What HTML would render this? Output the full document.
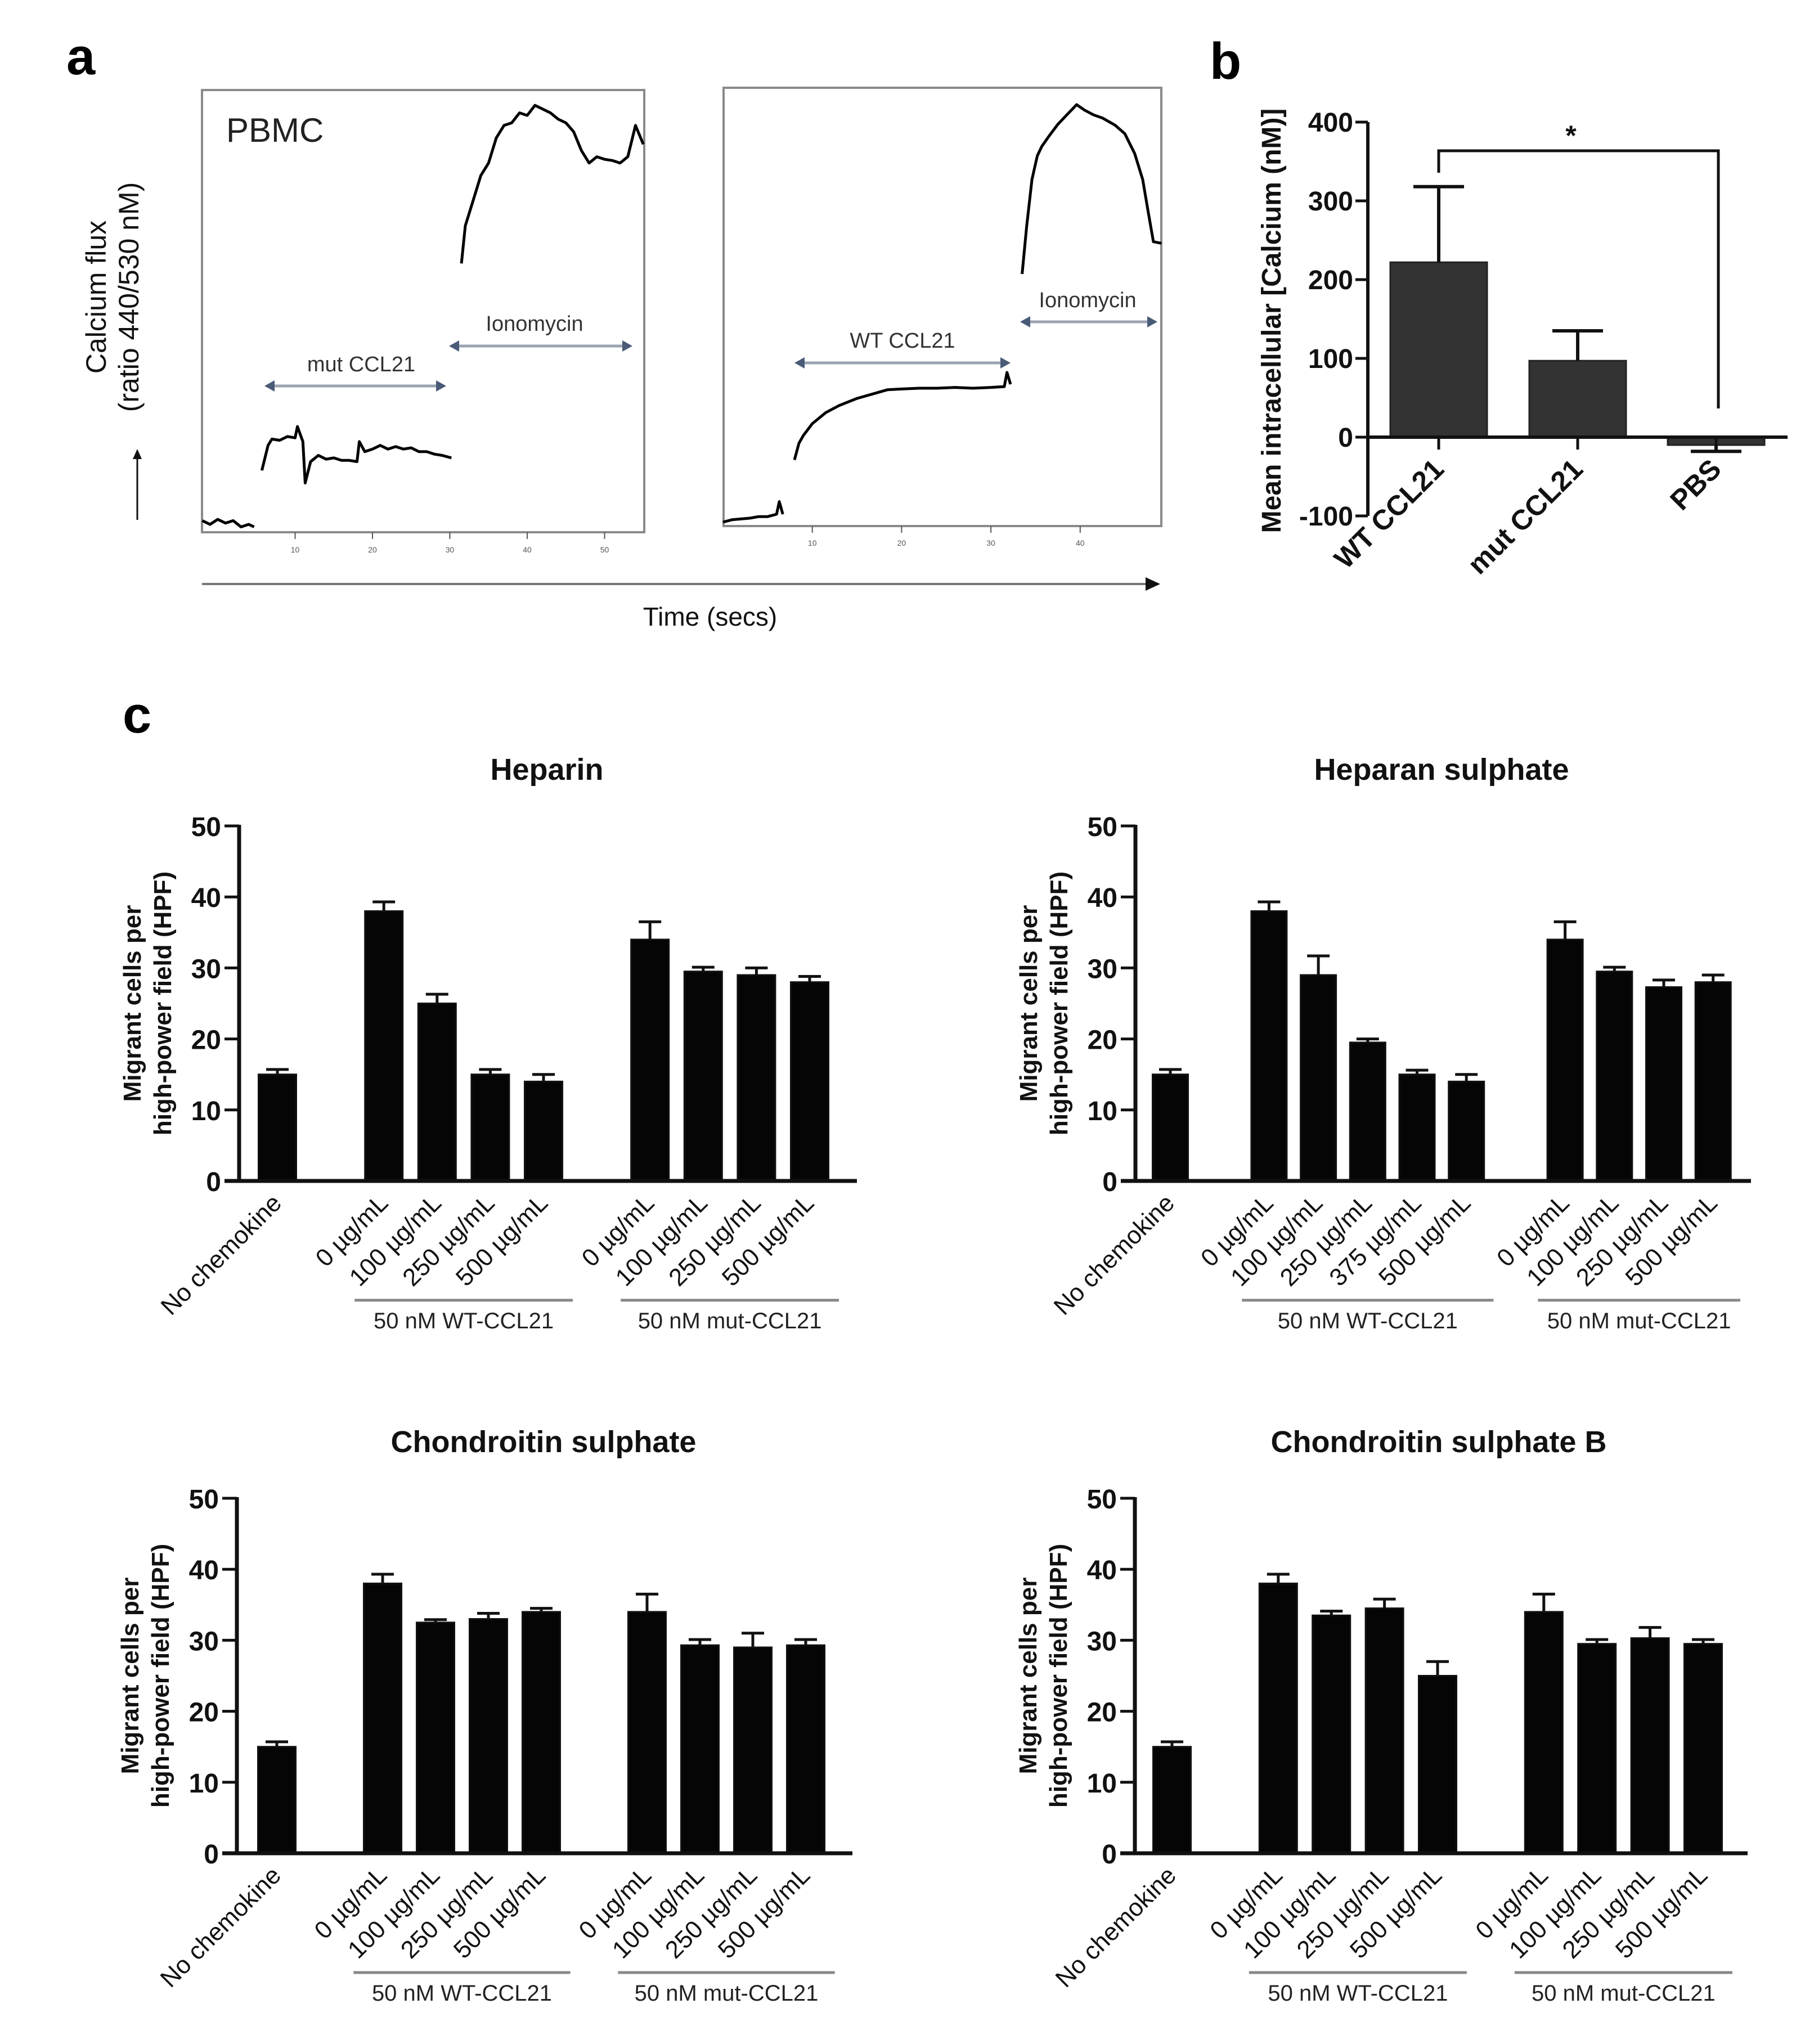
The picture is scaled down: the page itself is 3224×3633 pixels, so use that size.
<!DOCTYPE html>
<html><head><meta charset="utf-8">
<style>
html,body{margin:0;padding:0;background:#fff;}
svg{display:block;font-family:"Liberation Sans",Arial,sans-serif;}
</style></head>
<body>
<svg id="fig" width="3224" height="3633" viewBox="0 0 3224 3633" xmlns="http://www.w3.org/2000/svg">
  <rect x="0" y="0" width="3224" height="3633" fill="#ffffff"/>
  <text x="118" y="132" font-size="92" font-weight="bold">a</text>
  <text x="2150" y="140" font-size="92" font-weight="bold">b</text>
  <text x="218" y="1302" font-size="92" font-weight="bold">c</text>
  <g id="panelA"></g>
  <g id="panelB"></g>
  <g id="panelC"></g>
</svg>
<script>
// ---------- Panel a data (time s, ratio units) ----------
const pbmcBaseT = [-2,-1,0,1,2,3,4,4.7];
const pbmcBaseV = [0.55,0.52,0.56,0.53,0.55,0.5,0.52,0.5];
const mutT = [5.7,6.5,7,8,9,10,10.3,11,11.3,12,13,14,15,16,17,18,18.3,19,20,21,22,23,24,25,26,27,28,29,30.2];
const mutV = [0.95,1.15,1.2,1.19,1.22,1.21,1.3,1.18,0.85,1.02,1.07,1.04,1.05,1.03,1.03,1.02,1.18,1.1,1.12,1.15,1.12,1.14,1.12,1.13,1.1,1.1,1.08,1.07,1.05];
const iono1T = [31.5,32,33,34,35,36,37,38,39,40,41,42,43,44,45,46,47,48,49,50,51,52,53,54,55];
const iono1V = [2.6,2.9,3.1,3.3,3.4,3.6,3.7,3.72,3.8,3.78,3.86,3.83,3.8,3.75,3.72,3.65,3.5,3.4,3.45,3.43,3.42,3.4,3.45,3.7,3.55];
const wtBaseT = [0,1,2,3,4,5,6,6.3,6.7];
const wtBaseV = [0.45,0.48,0.49,0.5,0.52,0.52,0.55,0.71,0.55];
const wtT = [8,8.5,9,10,11.5,13,15,18.4,20,22,24,26,28,30,31.5,31.8,32.2];
const wtV = [1.24,1.45,1.55,1.7,1.84,1.93,2.02,2.13,2.14,2.15,2.15,2.16,2.15,2.16,2.17,2.35,2.2];
const iono2T = [33.5,34,34.6,35.2,35.7,36.5,37.5,38.5,39.6,40.5,41.5,42.5,43.9,45,46.1,47,47.6,48.2,49.1];
const iono2V = [3.6,4.2,4.8,5.1,5.22,5.35,5.5,5.62,5.75,5.68,5.62,5.58,5.49,5.38,5.13,4.8,4.4,4.01,3.99];
const box1Ticks = [10,20,30,40,50];
const box2Ticks = [10,20,30,40];

// ---------- Panel b data ----------
const bCats = ["WT CCL21","mut CCL21","PBS"];
const bVals = [222,97,-10];
const bErrs = [96,38,-8];
const bTicks = [400,300,200,100,0,-100];

// ---------- Panel c data ----------
const cCats4 = ["No chemokine","0 µg/mL","100 µg/mL","250 µg/mL","500 µg/mL","0 µg/mL","100 µg/mL","250 µg/mL","500 µg/mL"];
const cCats5 = ["No chemokine","0 µg/mL","100 µg/mL","250 µg/mL","375 µg/mL","500 µg/mL","0 µg/mL","100 µg/mL","250 µg/mL","500 µg/mL"];
const heparinVals = [15,38,25,15,14,34,29.5,29,28];
const heparinErrs = [0.7,1.3,1.3,0.7,1,2.5,0.6,1,0.8];
const heparanVals = [15,38,29,19.5,15,14,34,29.5,27.3,28];
const heparanErrs = [0.7,1.3,2.7,0.5,0.6,1,2.5,0.6,1,1];
const chondVals = [15,38,32.5,33,34,34,29.3,29,29.3];
const chondErrs = [0.7,1.3,0.4,0.8,0.5,2.5,0.8,2,0.8];
const chondBVals = [15,38,33.5,34.5,25,34,29.5,30.3,29.5];
const chondBErrs = [0.7,1.3,0.6,1.3,2,2.5,0.6,1.5,0.6];
const cTicks = [0,10,20,30,40,50];

const NS = "http://www.w3.org/2000/svg";
function mk(parent, tag, attrs, text){
  const e = document.createElementNS(NS, tag);
  for (const k in attrs) e.setAttribute(k, attrs[k]);
  if (text !== undefined) e.textContent = text;
  parent.appendChild(e);
  return e;
}

// ================= Panel A =================
(function(){
  const g = document.getElementById('panelA');
  function box(x0,y0,x1,y1,name){
    const r = mk(g,'rect',{x:x0,y:y0,width:x1-x0,height:y1-y0,fill:'none',stroke:'#8a8a8a','stroke-width':4});
    
    
  }
  box(359,160,1145,946,'trace-box-mut');
  box(1286,156,2064,935,'trace-box-wt');

  function trace(ts,vs,xf,yf,name){
    const pts = ts.map((t,i)=>xf(t).toFixed(1)+','+yf(vs[i]).toFixed(1)).join(' ');
    const p = mk(g,'polyline',{points:pts,fill:'none',stroke:'#000','stroke-width':5,'stroke-linejoin':'round'});
    
    
  }
  const x1 = t => 387 + t*13.75, y1 = v => 825 - (v-1)*223;
  const x2 = t => 1285 + t*15.87, y2 = v => 851 - (v-1)*140;
  trace(pbmcBaseT,pbmcBaseV,x1,y1,'baseline-trace-1');
  trace(mutT,mutV,x1,y1,'mut-ccl21-trace');
  trace(iono1T,iono1V,x1,y1,'ionomycin-trace-1');
  trace(wtBaseT,wtBaseV,x2,y2,'baseline-trace-2');
  trace(wtT,wtV,x2,y2,'wt-ccl21-trace');
  trace(iono2T,iono2V,x2,y2,'ionomycin-trace-2');

  box1Ticks.forEach(t=>{
    const l = mk(g,'line',{x1:x1(t),x2:x1(t),y1:946,y2:958,stroke:'#555','stroke-width':2});
     
    const tx = mk(g,'text',{x:x1(t),y:982,'font-size':14,'text-anchor':'middle',fill:'#555'},String(t));
     
  });
  box2Ticks.forEach(t=>{
    const l = mk(g,'line',{x1:x2(t),x2:x2(t),y1:935,y2:947,stroke:'#555','stroke-width':2});
     
    const tx = mk(g,'text',{x:x2(t),y:970,'font-size':14,'text-anchor':'middle',fill:'#555'},String(t));
     
  });

  function darrow(xa,xb,y,label,lx,ly,name){
    const c = '#4a5b78';
    const l = mk(g,'line',{x1:xa+14,x2:xb-14,y1:y,y2:y,stroke:'#9aa3b2','stroke-width':5});
     
    const a1 = mk(g,'polygon',{points:`${xa},${y} ${xa+18},${y-10} ${xa+18},${y+10}`,fill:c});
     
    const a2 = mk(g,'polygon',{points:`${xb},${y} ${xb-18},${y-10} ${xb-18},${y+10}`,fill:c});
     
    const t = mk(g,'text',{x:lx,y:ly,'font-size':38,'text-anchor':'middle',fill:'#333'},label);
     
  }
  darrow(470,793,686,'mut CCL21',642,660,'mut-ccl21-arrow');
  darrow(798,1124,615,'Ionomycin',950,588,'ionomycin-arrow-1');
  darrow(1412,1796,645,'WT CCL21',1604,618,'wt-ccl21-arrow');
  darrow(1813,2057,572,'Ionomycin',1933,546,'ionomycin-arrow-2');

  const pb = mk(g,'text',{x:402,y:252,'font-size':60,fill:'#222'},'PBMC');
   

  const ta = mk(g,'line',{x1:359,x2:2040,y1:1038,y2:1038,stroke:'#777','stroke-width':4});
   
  const th = mk(g,'polygon',{points:'2062,1038 2036,1026 2036,1050',fill:'#111'});
   
  const tt = mk(g,'text',{x:1262,y:1112,'font-size':46,'text-anchor':'middle',fill:'#111'},'Time (secs)');
   

  const yl = mk(g,'text',{transform:'translate(188,528) rotate(-90)','font-size':50,'text-anchor':'middle',fill:'#111'});
   
  mk(yl,'tspan',{x:0,dy:0},'Calcium flux');
  mk(yl,'tspan',{x:0,dy:58},'(ratio 440/530 nM)');
  const ua = mk(g,'line',{x1:244,x2:244,y1:924,y2:812,stroke:'#111','stroke-width':3});
   
  const uh = mk(g,'polygon',{points:'244,798 236,816 252,816',fill:'#111'});
   
})();

// ================= Panel B =================
(function(){
  const g = document.getElementById('panelB');
  const ax = 2431, y0 = 777, per = 1.40;
  const yv = v => y0 - v*per;
  const centers = [2557, 2804, 3050];
  const bw = 172;
  const axis = mk(g,'line',{x1:ax,x2:ax,y1:yv(400),y2:yv(-100),stroke:'#111','stroke-width':6});
   
  bTicks.forEach(t=>{
    const l = mk(g,'line',{x1:ax-22,x2:ax,y1:yv(t),y2:yv(t),stroke:'#111','stroke-width':5});
     
    const tx = mk(g,'text',{x:ax-26,y:yv(t)+17,'font-size':48,'font-weight':'bold','text-anchor':'end',fill:'#111'},String(t));
     
  });
  bVals.forEach((v,i)=>{
    const c = centers[i];
    const top = Math.min(yv(v),y0), hgt = Math.abs(yv(v)-y0);
    const r = mk(g,'rect',{x:c-bw/2,y:top,width:bw,height:hgt,fill:'#333',stroke:'#222','stroke-width':3});
    
    
    const ev = v + bErrs[i];
    const el = mk(g,'line',{x1:c,x2:c,y1:yv(v),y2:yv(ev),stroke:'#111','stroke-width':6});
     
    const ec = mk(g,'line',{x1:c-45,x2:c+45,y1:yv(ev),y2:yv(ev),stroke:'#111','stroke-width':6});
     
    const tk = mk(g,'line',{x1:c,x2:c,y1:y0,y2:y0+22,stroke:'#111','stroke-width':5});
     
    const tx = mk(g,'text',{transform:`translate(${c+12},${y0+60}) rotate(-45)`,'font-size':50,'font-weight':'bold','text-anchor':'end',fill:'#111'},bCats[i]);
     
  });
  const zl = mk(g,'line',{x1:ax,x2:3177,y1:y0,y2:y0,stroke:'#111','stroke-width':6});
   
  const br = mk(g,'polyline',{points:`${centers[0]},307 ${centers[0]},268 3054,268 3054,726`,fill:'none',stroke:'#111','stroke-width':5});
   
  const st = mk(g,'text',{x:2792,y:258,'font-size':50,'font-weight':'bold','text-anchor':'middle',fill:'#111'},'*');
   
  const yt = mk(g,'text',{transform:'translate(2276,570) rotate(-90)','font-size':48,'font-weight':'bold','text-anchor':'middle',fill:'#111'},'Mean intracellular [Calcium (nM)]');
   
})();

// ================= Panel C =================
function barChart(cfg){
  const g = mk(document.getElementById('panelC'),'g',{});
  
  
  const ax = cfg.ax, y0 = cfg.y0, h = 631;
  const yv = v => y0 - v/50*h;
  const title = mk(g,'text',{x:cfg.titleX,y:y0-h-82,'font-size':54,'font-weight':'bold','text-anchor':'middle',fill:'#111'},cfg.title);
   
  const axis = mk(g,'line',{x1:ax,x2:ax,y1:yv(50)-2,y2:y0,stroke:'#111','stroke-width':7});
   
  cTicks.forEach(t=>{
    const l = mk(g,'line',{x1:ax-26,x2:ax,y1:yv(t),y2:yv(t),stroke:'#111','stroke-width':5});
     
    const tx = mk(g,'text',{x:ax-32,y:yv(t)+18,'font-size':48,'font-weight':'bold','text-anchor':'end',fill:'#111'},String(t));
     
  });
  const yt = mk(g,'text',{transform:`translate(${ax-175},${y0-h/2}) rotate(-90)`,'font-size':44,'font-weight':'bold','text-anchor':'middle',fill:'#111'});
   
  mk(yt,'tspan',{x:0,dy:0},'Migrant cells per');
  mk(yt,'tspan',{x:0,dy:54},'high-power field (HPF)');
  const cx = s => ax + cfg.first + s*cfg.pitch;
  cfg.vals.forEach((v,i)=>{
    const c = cx(cfg.slots[i]);
    const r = mk(g,'rect',{x:c-cfg.bw/2,y:yv(v),width:cfg.bw,height:y0-yv(v),fill:'#050505',stroke:'#111','stroke-width':3});
    
    
    const ev = v + cfg.errs[i];
    const el = mk(g,'line',{x1:c,x2:c,y1:yv(v),y2:yv(ev),stroke:'#111','stroke-width':5});
     
    const ec = mk(g,'line',{x1:c-20,x2:c+20,y1:yv(ev),y2:yv(ev),stroke:'#111','stroke-width':5});
     
    const tx = mk(g,'text',{transform:`translate(${c+10},${y0+42}) rotate(-45)`,'font-size':44,'text-anchor':'end',fill:'#111'},cfg.cats[i]);
     
  });
  const zl = mk(g,'line',{x1:ax-26,x2:ax+cfg.lineLen,y1:y0,y2:y0,stroke:'#111','stroke-width':7});
   
  cfg.groups.forEach(gr=>{
    const x0 = cx(gr.from)-cfg.pitch*0.55, x1 = cx(gr.to)+cfg.pitch*0.55;
    const l = mk(g,'line',{x1:x0,x2:x1,y1:y0+212,y2:y0+212,stroke:'#888','stroke-width':5});
     
    const t = mk(g,'text',{x:(x0+x1)/2,y:y0+262,'font-size':40,'text-anchor':'middle',fill:'#222'},gr.label);
     
  });
}
const slots4 = [0,2,3,4,5,7,8,9,10];
const slots5 = [0,2,3,4,5,6,8,9,10,11];
barChart({name:'heparin-chart',title:'Heparin',titleX:972,ax:425,y0:2099,first:68,pitch:94.6,bw:67,slots:slots4,vals:heparinVals,errs:heparinErrs,cats:cCats4,lineLen:1098,
  groups:[{from:2,to:5,label:'50 nM WT-CCL21'},{from:7,to:10,label:'50 nM mut-CCL21'}]});
barChart({name:'heparan-sulphate-chart',title:'Heparan sulphate',titleX:2562,ax:2018,y0:2099,first:62,pitch:87.7,bw:63,slots:slots5,vals:heparanVals,errs:heparanErrs,cats:cCats5,lineLen:1094,
  groups:[{from:2,to:6,label:'50 nM WT-CCL21'},{from:8,to:11,label:'50 nM mut-CCL21'}]});
barChart({name:'chondroitin-sulphate-chart',title:'Chondroitin sulphate',titleX:966,ax:421,y0:3294,first:71,pitch:94,bw:67,slots:slots4,vals:chondVals,errs:chondErrs,cats:cCats4,lineLen:1094,
  groups:[{from:2,to:5,label:'50 nM WT-CCL21'},{from:7,to:10,label:'50 nM mut-CCL21'}]});
barChart({name:'chondroitin-sulphate-b-chart',title:'Chondroitin sulphate B',titleX:2557,ax:2017,y0:3294,first:66,pitch:94.4,bw:67,slots:slots4,vals:chondBVals,errs:chondBErrs,cats:cCats4,lineLen:1089,
  groups:[{from:2,to:5,label:'50 nM WT-CCL21'},{from:7,to:10,label:'50 nM mut-CCL21'}]});
</script>
</body></html>
